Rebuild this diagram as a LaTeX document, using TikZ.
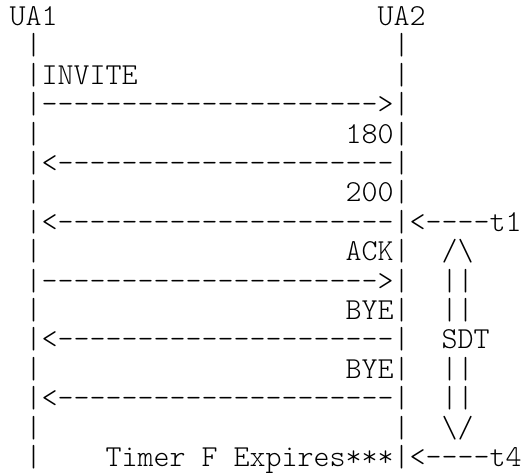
\documentclass[tikz,border=0pt]{standalone}
\usepackage{fontspec}
\setmonofont{lmmonolt10-regular.otf}
% one character cell is 16pt wide, one text row is 29.4pt high
\newcommand\cell[5][]{\node[asc,#1] (#2) at ({9.5+16*#3},{25.5+29.4*#4}) {#5};}
\begin{document}
\begin{tikzpicture}[x=1pt,y=-1pt,
  asc/.style={font=\ttfamily\fontsize{30.48}{29.4}\selectfont,
    anchor=base west, inner sep=0pt, outer sep=0pt, text=black}]
\useasboundingbox (0,0) rectangle (522,473);
% header row
\cell{ua1}{0}{0}{UA1}
\cell{ua2}{23}{0}{UA2}
% row 1
\cell{la1}{1}{1}{|}
\cell{lb1}{24}{1}{|}
% INVITE
\cell{invl}{1}{2}{|INVITE}
\cell{lb2}{24}{2}{|}
\cell{inva}{1}{3}{|--------------------->|}
% 180
\cell{la4}{1}{4}{|}
\cell{r180}{21}{4}{180|}
\cell{a180}{1}{5}{|<---------------------|}
% 200
\cell{la6}{1}{6}{|}
\cell{r200}{21}{6}{200|}
\cell{a200}{1}{7}{|<---------------------|<----t1}
% ACK
\cell{la8}{1}{8}{|}
\cell{rack}{21}{8}{ACK|}
\cell{sdtup}{27}{8}{/\textbackslash}
\cell{aack}{1}{9}{|--------------------->|}
\cell{sdt9}{27}{9}{||}
% first BYE
\cell{la10}{1}{10}{|}
\cell{rbye1}{21}{10}{BYE|}
\cell{sdt10}{27}{10}{||}
\cell{abye1}{1}{11}{|<---------------------|}
\cell{sdt}{27}{11}{SDT}
% second BYE
\cell{la12}{1}{12}{|}
\cell{rbye2}{21}{12}{BYE|}
\cell{sdt12}{27}{12}{||}
\cell{abye2}{1}{13}{|<---------------------|}
\cell{sdt13}{27}{13}{||}
% end of the interval
\cell{la14}{1}{14}{|}
\cell{lb14}{24}{14}{|}
\cell{sdtdn}{27}{14}{\textbackslash/}
\cell{la15}{1}{15}{|}
\cell{timer}{6}{15}{Timer F Expires***|<----t4}
\end{tikzpicture}
\end{document}
